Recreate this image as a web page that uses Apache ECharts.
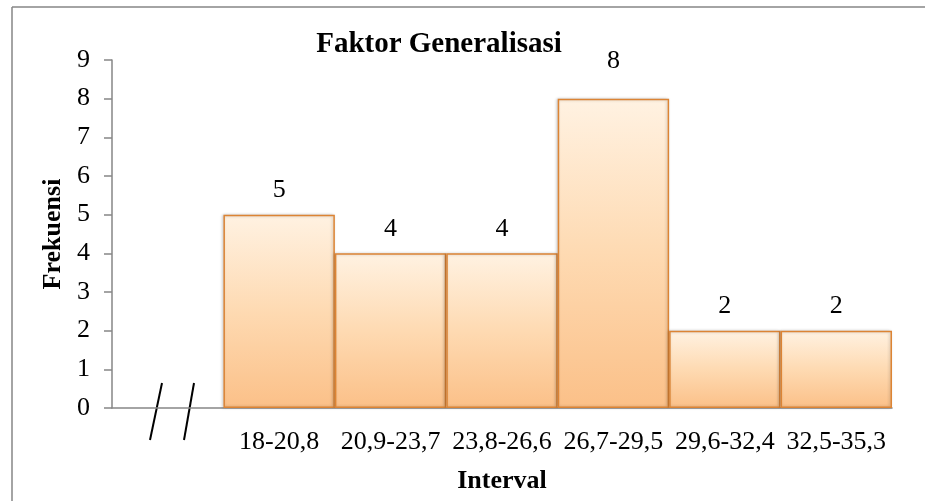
<!DOCTYPE html>
<html>
<head>
<meta charset="utf-8">
<script src="https://cdn.jsdelivr.net/npm/echarts@6/dist/echarts.min.js"></script>
<style>
    html, body { margin: 0; padding: 0; background: #fff; }
    #chart { width: 925px; height: 501px; }
</style>
</head>
<body>
<div id="chart"></div>
<script>
// first slot is empty: it holds the axis break marks
const categories = ['', '18-20,8', '20,9-23,7', '23,8-26,6', '26,7-29,5', '29,6-32,4', '32,5-35,3']
const frequencies = ['-', 5, 4, 4, 8, 2, 2]
const yTicks = [0, 1, 2, 3, 4, 5, 6, 7, 8, 9]

const font = '"Liberation Serif", "Times New Roman", serif'
const axisGray = '#868686'
const topValue = Math.max(...frequencies.filter(v => typeof v === 'number'))

const chart = echarts.init(document.getElementById('chart'))

chart.setOption({
    backgroundColor: '#fff',
    animation: false,
    title: {
        text: 'Faktor Generalisasi',
        left: 434,
        top: 25,
        textAlign: 'center',
        textStyle: { fontFamily: font, fontSize: 29, fontWeight: 'bold', color: '#000' },
    },
    grid: { left: 112, right: 33, top: 60, bottom: 93 },
    xAxis: {
        type: 'category',
        data: categories,
        name: 'Interval',
        nameLocation: 'middle',
        nameGap: 60,
        nameTextStyle: { fontFamily: font, fontSize: 26, fontWeight: 'bold', color: '#000' },
        axisLine: { lineStyle: { color: axisGray, width: 1.5 } },
        axisTick: { length: 6, lineStyle: { color: axisGray, width: 1.5 } },
        axisLabel: { fontFamily: font, fontSize: 26, color: '#000', margin: 21, interval: 0 },
    },
    yAxis: {
        type: 'value',
        min: yTicks[0],
        max: yTicks[yTicks.length - 1],
        interval: 1,
        name: 'Frekuensi',
        nameLocation: 'middle',
        nameGap: 46,
        nameTextStyle: { fontFamily: font, fontSize: 26, fontWeight: 'bold', color: '#000' },
        axisLine: { show: true, lineStyle: { color: axisGray, width: 1.5 } },
        axisTick: { show: true, length: 8, lineStyle: { color: axisGray, width: 1.5 } },
        splitLine: { show: false },
        axisLabel: { fontFamily: font, fontSize: 26, color: '#000', margin: 22 },
    },
    series: [{
        type: 'bar',
        barCategoryGap: '0%',
        data: frequencies.map(v => v === topValue
            ? { value: v, label: { distance: 24 } }
            : v),
        itemStyle: {
            color: new echarts.graphic.LinearGradient(0, 0, 0, 1, [
                { offset: 0, color: '#fff2e2' },
                { offset: 0.5, color: '#fedab2' },
                { offset: 1, color: '#fbc088' },
            ]),
            borderColor: '#dc8434',
            borderWidth: 1.5,
            shadowColor: 'rgba(0,0,0,0.2)',
            shadowBlur: 3,
            shadowOffsetX: -1,
        },
        label: {
            show: true,
            position: 'top',
            distance: 11,
            fontFamily: font,
            fontSize: 26,
            color: '#000',
        },
    }],
    graphic: [
        // outer frame (top and left edges only are visible)
        { type: 'line', shape: { x1: 12, y1: 7, x2: 925, y2: 7 }, style: { stroke: axisGray, lineWidth: 1.5 } },
        { type: 'line', shape: { x1: 12, y1: 7, x2: 12, y2: 501 }, style: { stroke: axisGray, lineWidth: 1.5 } },
        // axis break marks
        { type: 'line', shape: { x1: 150, y1: 440, x2: 162, y2: 383 }, style: { stroke: '#000', lineWidth: 2 } },
        { type: 'line', shape: { x1: 184, y1: 440, x2: 194, y2: 383 }, style: { stroke: '#000', lineWidth: 2 } },
    ],
})
</script>
</body>
</html>
